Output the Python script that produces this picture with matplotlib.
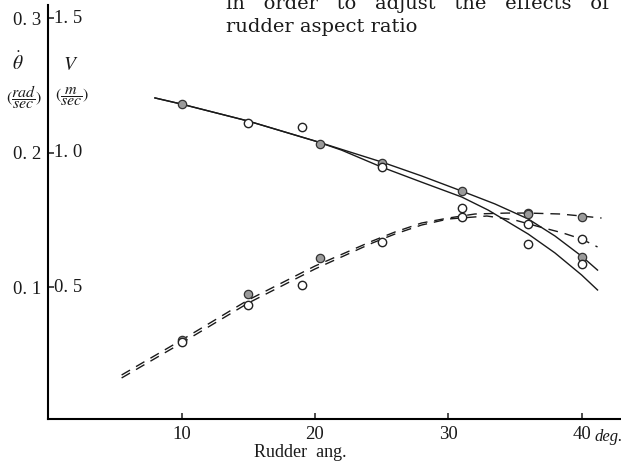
import numpy as np
import matplotlib
matplotlib.use('Agg')
import matplotlib.pyplot as plt

plt.rcParams['font.family'] = ['Liberation Serif', 'DejaVu Serif']
plt.rcParams['mathtext.fontset'] = 'stix'

# ---- data ----
ang_ticks = [10, 20, 30, 40]
ang_labels = ['10', '20', '30', '40']
rate_ticks = [0.1, 0.2, 0.3]          # theta-dot, rad/sec
rate_labels = ['0. 1', '0. 2', '0. 3']
vel_ticks = [0.5, 1.0, 1.5]           # V, m/sec
vel_labels = ['0. 5', '1. 0', '1. 5']

# V (m/sec), solid fitted lines
v_fit_a_x = [8, 10, 15, 20, 25, 28, 31, 33.5, 36, 38, 40, 41.2]
v_fit_a = [1.204, 1.181, 1.118, 1.044, 0.966, 0.914, 0.858, 0.810, 0.754, 0.691, 0.616, 0.564]
v_fit_b_x = [8, 10, 15, 20, 22, 25, 28, 31, 33, 36, 38, 40, 41.2]
v_fit_b = [1.204, 1.181, 1.118, 1.044, 1.010, 0.947, 0.891, 0.836, 0.787, 0.698, 0.628, 0.546, 0.490]

# theta-dot (rad/sec), dashed fitted lines
r_fit_a_x = [5.5, 10, 15, 20, 24.3, 26, 28, 30, 32, 34.4, 36, 38.4, 40, 41.5]
r_fit_a = [0.0348, 0.0608, 0.0906, 0.1158, 0.1344, 0.1411, 0.1478, 0.1515, 0.1545, 0.1552, 0.1552, 0.1545, 0.1530, 0.1515]
r_fit_b_x = [5.5, 10, 15, 20, 24.3, 26, 28, 30, 32.9, 35, 36.9, 38.6, 40, 41.2]
r_fit_b = [0.0326, 0.0586, 0.0883, 0.1136, 0.1329, 0.1396, 0.1463, 0.1508, 0.1530, 0.1500, 0.1448, 0.1404, 0.1359, 0.1300]

# measured points
v_full_x = [10, 20.4, 25, 31, 36, 40]
v_full = [1.181, 1.033, 0.962, 0.858, 0.776, 0.613]
v_open_x = [15, 19, 25, 31, 36, 40]
v_open = [1.111, 1.096, 0.947, 0.795, 0.661, 0.587]
r_full_x = [10, 15, 20.4, 36, 40]
r_full = [0.0608, 0.0948, 0.1218, 0.1545, 0.1523]
r_open_x = [10, 15, 19, 25, 31, 36, 40]
r_open = [0.0593, 0.0868, 0.1017, 0.1337, 0.1522, 0.1471, 0.1359]

W, H = 621, 465
fig = plt.figure(figsize=(W / 100, H / 100), dpi=100)
ax = fig.add_axes([48.3 / W, (H - 419.3) / H, 572.7 / W, 414.3 / H])
ax.set_xlim(0, 42.96)
ax.set_ylim(0.00186, 0.3099)

ink = '#1a1a1a'
vs = 1 / 5.0   # V axis -> theta-dot axis (1.5 m/sec <-> 0.3 rad/sec)

ax.plot(v_fit_a_x, np.array(v_fit_a) * vs, color=ink, lw=1.0)
ax.plot(v_fit_b_x, np.array(v_fit_b) * vs, color=ink, lw=1.0)
ax.plot(r_fit_a_x, r_fit_a, color=ink, lw=1.0, dashes=(7, 5))
ax.plot(r_fit_b_x, r_fit_b, color=ink, lw=1.0, dashes=(7, 5))

ax.plot(v_full_x, np.array(v_full) * vs, 'o', ms=6, mfc='#9a9a9a', mec='#333333', mew=0.9, zorder=5)
ax.plot(v_open_x, np.array(v_open) * vs, 'o', ms=6, mfc='white', mec='#222222', mew=1.0, zorder=5)
ax.plot(r_full_x, r_full, 'o', ms=6, mfc='#9a9a9a', mec='#333333', mew=0.9, zorder=5)
ax.plot(r_open_x, r_open, 'o', ms=6, mfc='white', mec='#222222', mew=1.0, zorder=5)

for s in ['top', 'right']:
    ax.spines[s].set_visible(False)
ax.spines['left'].set_linewidth(1.5)
ax.spines['bottom'].set_linewidth(1.5)

ax.set_xticks(ang_ticks, ang_labels)
ax.set_yticks(rate_ticks, rate_labels)
ax.tick_params(axis='x', direction='in', length=4.5, width=1.1, pad=5, labelsize=13.5, colors=ink)
ax.tick_params(axis='y', direction='in', length=4, width=1.1, pad=5, labelsize=13.5, colors=ink)

for v, lab in zip(vel_ticks, vel_labels):
    ax.text(0.0105, v * vs, lab, transform=ax.get_yaxis_transform(),
            ha='left', va='center', fontsize=13.5, color=ink)

ax.text(40.95, -0.043, 'deg.', transform=ax.get_xaxis_transform(),
        ha='left', va='center', fontsize=12, style='italic', color=ink)

def px(x, y):
    return x / W, 1 - y / H

fig.text(*px(300, 452), 'Rudder  ang.', ha='center', va='center', fontsize=13, color=ink)
fig.text(*px(18, 63), r'$\dot{\theta}$', ha='center', va='center', fontsize=14, color=ink)
fig.text(*px(71, 65), r'$V$', ha='center', va='center', fontsize=14, color=ink)
fig.text(*px(24, 97), r'$(\dfrac{rad}{sec})$', ha='center', va='center', fontsize=11.5, color=ink)
fig.text(*px(72, 97), r'$(\dfrac{m}{sec})$', ha='center', va='center', fontsize=11.5, color=ink)

fig.text(*px(226, 9), 'in   order   to   adjust   the   effects   of',
         ha='left', va='baseline', fontsize=14, family='DejaVu Serif', color=ink)
fig.text(*px(226, 32), 'rudder aspect ratio',
         ha='left', va='baseline', fontsize=14, family='DejaVu Serif', color=ink)

fig.savefig('out.png', dpi=100)
